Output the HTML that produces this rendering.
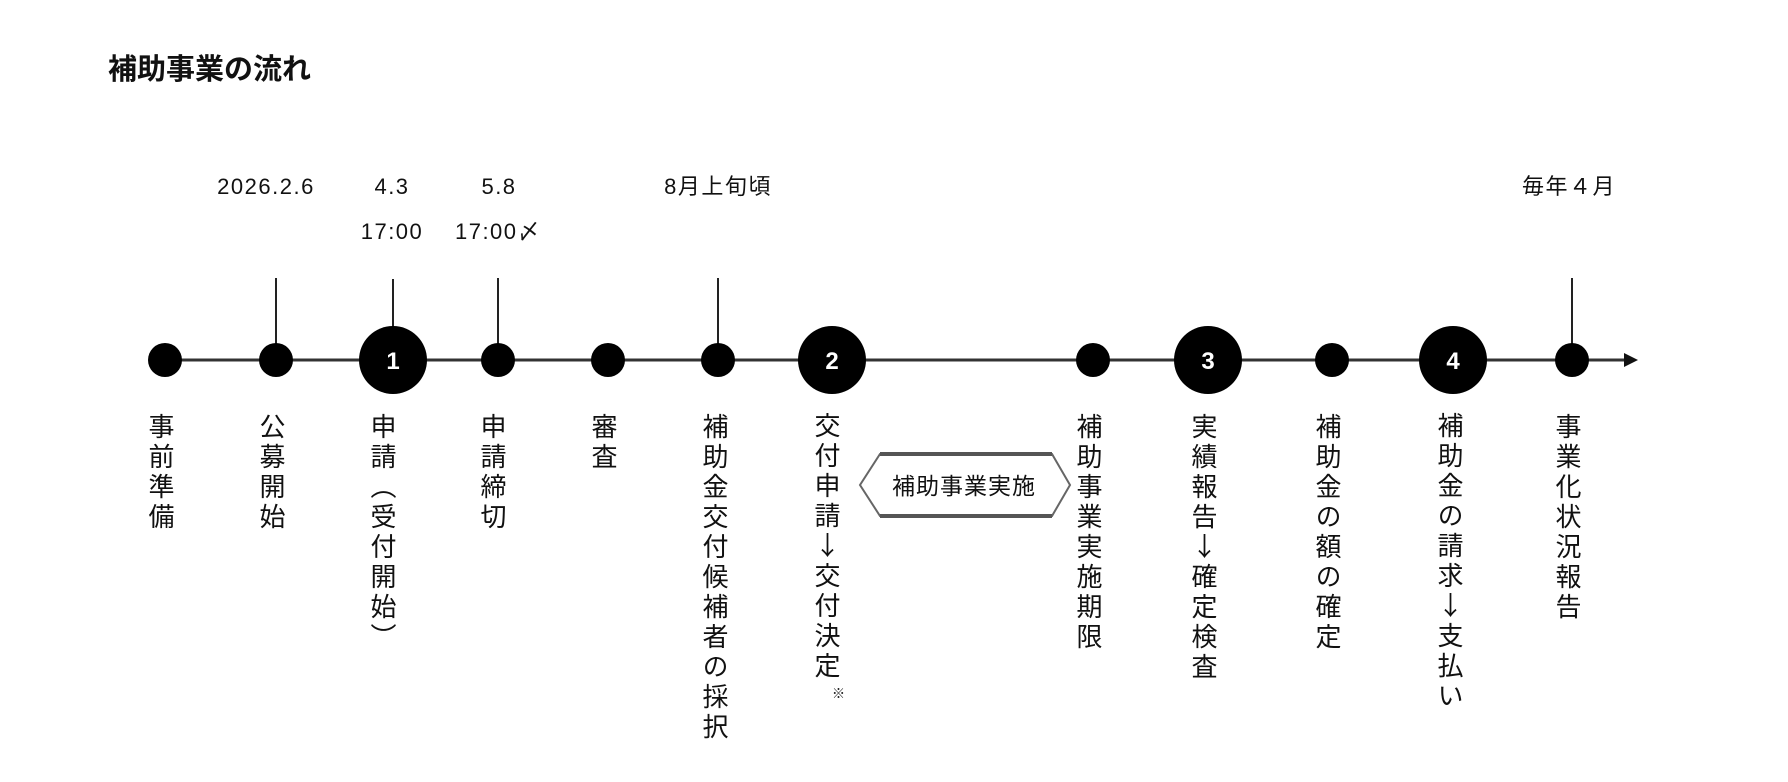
<!DOCTYPE html>
<html><head><meta charset="utf-8"><style>
body{margin:0;width:1788px;height:782px;background:#fff;position:relative;overflow:hidden;font-family:"Liberation Sans","Noto Sans CJK JP",sans-serif;color:#111}
.t{position:absolute;font-size:22px;letter-spacing:1.5px;white-space:nowrap;transform:translateX(-50%);line-height:26px}
.v{position:absolute;writing-mode:vertical-rl;font-family:"Noto Sans CJK JP",sans-serif;font-size:26px;letter-spacing:4px;line-height:26px;white-space:nowrap}
.u{text-orientation:upright}
</style></head><body>
<div style="position:absolute;left:108px;top:48px;font-size:29px;font-weight:bold;font-family:'Noto Sans CJK JP',sans-serif;line-height:38px">補助事業の流れ</div>

<svg width="1788" height="782" style="position:absolute;left:0;top:0">
<line x1="150" y1="360" x2="1628" y2="360" stroke="#333" stroke-width="3"/>
<polygon points="1624,353 1638,360 1624,367" fill="#111"/>
<g stroke="#222" stroke-width="2">
<line x1="276" y1="278" x2="276" y2="360"/>
<line x1="393" y1="279" x2="393" y2="360"/>
<line x1="498" y1="278" x2="498" y2="360"/>
<line x1="718" y1="278" x2="718" y2="360"/>
<line x1="1572" y1="278" x2="1572" y2="360"/>
</g>
<g fill="#000">
<circle cx="165" cy="360" r="17"/>
<circle cx="276" cy="360" r="17"/>
<circle cx="393" cy="360" r="34"/>
<circle cx="498" cy="360" r="17"/>
<circle cx="608" cy="360" r="17"/>
<circle cx="718" cy="360" r="17"/>
<circle cx="832" cy="360" r="34"/>
<circle cx="1093" cy="360" r="17"/>
<circle cx="1208" cy="360" r="34"/>
<circle cx="1332" cy="360" r="17"/>
<circle cx="1453" cy="360" r="34"/>
<circle cx="1572" cy="360" r="17"/>
</g>
<g fill="#fff" font-family="Liberation Sans, sans-serif" font-weight="bold" font-size="24" text-anchor="middle">
<text x="393" y="369">1</text>
<text x="832" y="369">2</text>
<text x="1208" y="369">3</text>
<text x="1453" y="369">4</text>
</g>
<polygon points="880,454 1052,454 1070,485 1052,516 880,516 860,485" fill="#fff" stroke="#666" stroke-width="2"/>
<line x1="880" y1="454" x2="1052" y2="454" stroke="#555" stroke-width="4"/>
<line x1="880" y1="516" x2="1052" y2="516" stroke="#555" stroke-width="4"/>
<text x="964" y="494" text-anchor="middle" font-family="Noto Sans CJK JP, sans-serif" font-size="23" letter-spacing="1" fill="#111">補助事業実施</text>
</svg>

<div class="t" style="left:266px;top:174px">2026.2.6</div>
<div class="t" style="left:392px;top:174px">4.3</div>
<div class="t" style="left:392px;top:219px">17:00</div>
<div class="t" style="left:499px;top:174px">5.8</div>
<div class="t" style="left:498px;top:219px">17:00〆</div>
<div class="t" style="left:718px;top:174px">8月上旬頃</div>
<div class="t" style="left:1569px;top:174px">毎年４月</div>

<div class="v" style="left:148px;top:413px">事前準備</div>
<div class="v" style="left:259px;top:413px">公募開始</div>
<div class="v" style="left:370px;top:413px">申請（受付開始）</div>
<div class="v" style="left:480px;top:413px">申請締切</div>
<div class="v" style="left:591px;top:413px">審査</div>
<div class="v" style="left:702px;top:413px">補助金交付候補者の採択</div>
<div class="v" style="left:814px;top:412px">交付申請<span class="u">↓</span>交付決定</div>
<div style="position:absolute;left:832px;top:683px;font-size:13px;font-family:'Noto Sans CJK JP',sans-serif">※</div>
<div class="v" style="left:1076px;top:413px">補助事業実施期限</div>
<div class="v" style="left:1191px;top:413px">実績報告<span class="u">↓</span>確定検査</div>
<div class="v" style="left:1315px;top:413px">補助金の額の確定</div>
<div class="v" style="left:1437px;top:412px">補助金の請求<span class="u">↓</span>支払い</div>
<div class="v" style="left:1555px;top:413px">事業化状況報告</div>
</body></html>
